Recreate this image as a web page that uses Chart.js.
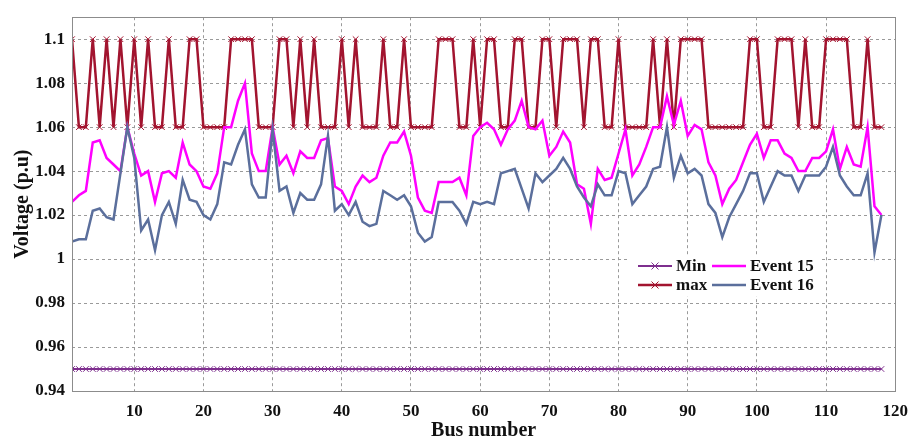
<!DOCTYPE html>
<html>
<head>
<meta charset="utf-8">
<script src="https://cdn.jsdelivr.net/npm/chart.js@4.4.0/dist/chart.umd.min.js"></script>
<style>
  html, body { margin: 0; padding: 0; background: #fff; }
  #wrap { width: 918px; height: 441px; }
</style>
</head>
<body>
<div id="wrap"><canvas id="voltChart" width="918" height="441"></canvas></div>
<script>
"use strict";

// bus index 1..118
const busNumbers = Array.from({ length: 118 }, (_, i) => i + 1);

const xTicks = [10, 20, 30, 40, 50, 60, 70, 80, 90, 100, 110, 120];
const yTicks = [0.94, 0.96, 0.98, 1.0, 1.02, 1.04, 1.06, 1.08, 1.1];

const vMin = [
  0.95, 0.95, 0.95, 0.95, 0.95, 0.95, 0.95, 0.95, 0.95, 0.95,
  0.95, 0.95, 0.95, 0.95, 0.95, 0.95, 0.95, 0.95, 0.95, 0.95,
  0.95, 0.95, 0.95, 0.95, 0.95, 0.95, 0.95, 0.95, 0.95, 0.95,
  0.95, 0.95, 0.95, 0.95, 0.95, 0.95, 0.95, 0.95, 0.95, 0.95,
  0.95, 0.95, 0.95, 0.95, 0.95, 0.95, 0.95, 0.95, 0.95, 0.95,
  0.95, 0.95, 0.95, 0.95, 0.95, 0.95, 0.95, 0.95, 0.95, 0.95,
  0.95, 0.95, 0.95, 0.95, 0.95, 0.95, 0.95, 0.95, 0.95, 0.95,
  0.95, 0.95, 0.95, 0.95, 0.95, 0.95, 0.95, 0.95, 0.95, 0.95,
  0.95, 0.95, 0.95, 0.95, 0.95, 0.95, 0.95, 0.95, 0.95, 0.95,
  0.95, 0.95, 0.95, 0.95, 0.95, 0.95, 0.95, 0.95, 0.95, 0.95,
  0.95, 0.95, 0.95, 0.95, 0.95, 0.95, 0.95, 0.95, 0.95, 0.95,
  0.95, 0.95, 0.95, 0.95, 0.95, 0.95, 0.95, 0.95
];

// 1.1 on generator buses, 1.06 on load buses
const vMax = [
  1.1, 1.06, 1.06, 1.1, 1.06, 1.1, 1.06, 1.1, 1.06, 1.1,
  1.06, 1.1, 1.06, 1.06, 1.1, 1.06, 1.06, 1.1, 1.1, 1.06,
  1.06, 1.06, 1.06, 1.1, 1.1, 1.1, 1.1, 1.06, 1.06, 1.06,
  1.1, 1.1, 1.06, 1.1, 1.06, 1.1, 1.06, 1.06, 1.06, 1.1,
  1.06, 1.1, 1.06, 1.06, 1.06, 1.1, 1.06, 1.06, 1.1, 1.06,
  1.06, 1.06, 1.06, 1.1, 1.1, 1.1, 1.06, 1.06, 1.1, 1.06,
  1.1, 1.1, 1.06, 1.06, 1.1, 1.1, 1.06, 1.06, 1.1, 1.1,
  1.06, 1.1, 1.1, 1.1, 1.06, 1.1, 1.1, 1.06, 1.06, 1.1,
  1.06, 1.06, 1.06, 1.06, 1.1, 1.06, 1.1, 1.06, 1.1, 1.1,
  1.1, 1.1, 1.06, 1.06, 1.06, 1.06, 1.06, 1.06, 1.1, 1.1,
  1.06, 1.06, 1.1, 1.1, 1.1, 1.06, 1.1, 1.06, 1.06, 1.1,
  1.1, 1.1, 1.1, 1.06, 1.06, 1.1, 1.06, 1.06
];

const event15 = [
  1.026, 1.029, 1.031, 1.053, 1.054, 1.046, 1.043, 1.040, 1.060, 1.048,
  1.038, 1.040, 1.026, 1.039, 1.040, 1.037, 1.053, 1.043, 1.040, 1.033,
  1.032, 1.039, 1.060, 1.060, 1.072, 1.080, 1.048, 1.040, 1.040, 1.060,
  1.043, 1.047, 1.039, 1.049, 1.046, 1.046, 1.054, 1.055, 1.033, 1.031,
  1.025, 1.033, 1.038, 1.035, 1.037, 1.047, 1.053, 1.053, 1.058, 1.047,
  1.028, 1.022, 1.021, 1.035, 1.035, 1.035, 1.037, 1.029, 1.056, 1.060,
  1.062, 1.059, 1.052, 1.059, 1.063, 1.072, 1.060, 1.059, 1.063, 1.047,
  1.051, 1.058, 1.053, 1.034, 1.032, 1.016, 1.041, 1.036, 1.037, 1.048,
  1.059, 1.038, 1.043, 1.051, 1.060, 1.060, 1.074, 1.061, 1.072, 1.056,
  1.061, 1.059, 1.044, 1.038, 1.025, 1.032, 1.036, 1.044, 1.052, 1.057,
  1.046, 1.054, 1.054, 1.048, 1.046, 1.040, 1.040, 1.046, 1.046, 1.049,
  1.059, 1.041, 1.051, 1.043, 1.042, 1.060, 1.024, 1.020
];

const event16 = [
  1.008, 1.009, 1.009, 1.022, 1.023, 1.019, 1.018, 1.039, 1.060, 1.046,
  1.013, 1.018, 1.004, 1.020, 1.026, 1.016, 1.036, 1.027, 1.026, 1.020,
  1.018, 1.025, 1.044, 1.043, 1.052, 1.059, 1.034, 1.028, 1.028, 1.059,
  1.031, 1.033, 1.021, 1.030, 1.027, 1.027, 1.034, 1.056, 1.022, 1.025,
  1.020, 1.026, 1.017, 1.015, 1.016, 1.031, 1.029, 1.027, 1.029, 1.024,
  1.012, 1.008, 1.010, 1.026, 1.026, 1.026, 1.022, 1.016, 1.026, 1.025,
  1.026, 1.025, 1.039, 1.040, 1.041, 1.032, 1.023, 1.039, 1.035, 1.038,
  1.041, 1.046, 1.041, 1.033, 1.028, 1.024, 1.034, 1.029, 1.029, 1.040,
  1.039, 1.025, 1.029, 1.033, 1.041, 1.042, 1.060, 1.037, 1.047, 1.039,
  1.041, 1.038, 1.025, 1.021, 1.010, 1.019, 1.025, 1.031, 1.039, 1.039,
  1.026, 1.033, 1.040, 1.038, 1.038, 1.031, 1.038, 1.038, 1.038, 1.042,
  1.051, 1.038, 1.033, 1.029, 1.029, 1.039, 1.003, 1.020
];

const serif = "'Liberation Serif', 'Times New Roman', serif";

function toPoints(values) {
  return busNumbers.map((b, i) => ({ x: b, y: values[i] }));
}

// frame around the plotting area
const frame = {
  id: 'frame',
  afterDraw(chart) {
    const a = chart.chartArea;
    const ctx = chart.ctx;
    ctx.save();
    ctx.strokeStyle = '#8c8c8c';
    ctx.lineWidth = 1;
    ctx.strokeRect(Math.round(a.left) + 0.5, Math.round(a.top) + 0.5,
      Math.round(a.right - a.left), Math.round(a.bottom - a.top));
    ctx.restore();
  }
};

// two-column legend inside the plot
const boxLegend = {
  id: 'boxLegend',
  afterDraw(chart) {
    const ctx = chart.ctx;
    const ds = chart.data.datasets;
    const slots = [
      { i: 0, x: 638, y: 266 },
      { i: 1, x: 638, y: 285 },
      { i: 2, x: 712, y: 266 },
      { i: 3, x: 712, y: 285 }
    ];
    ctx.save();
    ctx.fillStyle = '#fff';
    ctx.fillRect(630, 256, 190, 40);
    slots.forEach(s => {
      const d = ds[s.i];
      ctx.strokeStyle = d.borderColor;
      ctx.lineWidth = d.borderWidth;
      ctx.beginPath();
      ctx.moveTo(s.x, s.y);
      ctx.lineTo(s.x + 34, s.y);
      ctx.stroke();
      if (d.pointStyle === 'crossRot') {
        const cx = s.x + 17, r = 3.5;
        ctx.lineWidth = 1;
        ctx.beginPath();
        ctx.moveTo(cx - r, s.y - r); ctx.lineTo(cx + r, s.y + r);
        ctx.moveTo(cx - r, s.y + r); ctx.lineTo(cx + r, s.y - r);
        ctx.stroke();
      }
      ctx.fillStyle = '#111';
      ctx.font = 'bold 17px ' + serif;
      ctx.textBaseline = 'middle';
      ctx.fillText(d.label, s.x + 38, s.y + 1);
    });
    ctx.restore();
  }
};

const ctx = document.getElementById('voltChart').getContext('2d');
const chart = new Chart(ctx, {
  type: 'line',
  data: {
    datasets: [
      {
        label: 'Min',
        data: toPoints(vMin),
        borderColor: '#7E2F8E',
        backgroundColor: '#7E2F8E',
        borderWidth: 2,
        pointStyle: 'crossRot',
        pointRadius: 4,
        pointBorderWidth: 1,
        order: 4
      },
      {
        label: 'max',
        data: toPoints(vMax),
        borderColor: '#A2142F',
        backgroundColor: '#A2142F',
        borderWidth: 2.5,
        pointStyle: 'crossRot',
        pointRadius: 4,
        pointBorderWidth: 1,
        order: 3
      },
      {
        label: 'Event 15',
        data: toPoints(event15),
        borderColor: '#FF00FF',
        borderWidth: 2.5,
        pointRadius: 0,
        order: 2
      },
      {
        label: 'Event 16',
        data: toPoints(event16),
        borderColor: '#5B6F9C',
        borderWidth: 2.5,
        pointRadius: 0,
        order: 1
      }
    ]
  },
  options: {
    responsive: false,
    animation: false,
    devicePixelRatio: 1,
    layout: { padding: { top: 12, right: 21, left: 0, bottom: 0 } },
    plugins: {
      legend: { display: false },
      tooltip: { enabled: false }
    },
    scales: {
      x: {
        type: 'linear',
        min: 1,
        max: 120,
        afterBuildTicks: s => { s.ticks = xTicks.map(v => ({ value: v })); },
        afterFit: s => { s.height = 50; },
        ticks: {
          color: '#111',
          padding: 10,
          maxRotation: 0,
          font: { family: serif, size: 17, weight: 'bold' }
        },
        grid: { color: '#9a9a9a', lineWidth: 1, drawTicks: false },
        border: { display: false, dash: [3, 3] },
        title: {
          display: true,
          text: 'Bus number',
          color: '#111',
          padding: { top: 4, bottom: 0 },
          font: { family: serif, size: 20, weight: 'bold', lineHeight: 1 }
        }
      },
      y: {
        min: 0.94,
        max: 1.11,
        afterBuildTicks: s => { s.ticks = yTicks.map(v => ({ value: v })); },
        afterFit: s => { s.width = 72; },
        ticks: {
          color: '#111',
          padding: 7,
          font: { family: serif, size: 17, weight: 'bold' },
          callback: v => String(Number(v.toFixed(2)))
        },
        grid: { color: '#9a9a9a', lineWidth: 1, drawTicks: false },
        border: { display: false, dash: [3, 3] },
        title: {
          display: true,
          text: 'Voltage (p.u)',
          color: '#111',
          padding: { top: 11, bottom: 4 },
          font: { family: serif, size: 20, weight: 'bold' }
        }
      }
    }
  },
  plugins: [frame, boxLegend]
});
</script>
</body>
</html>
